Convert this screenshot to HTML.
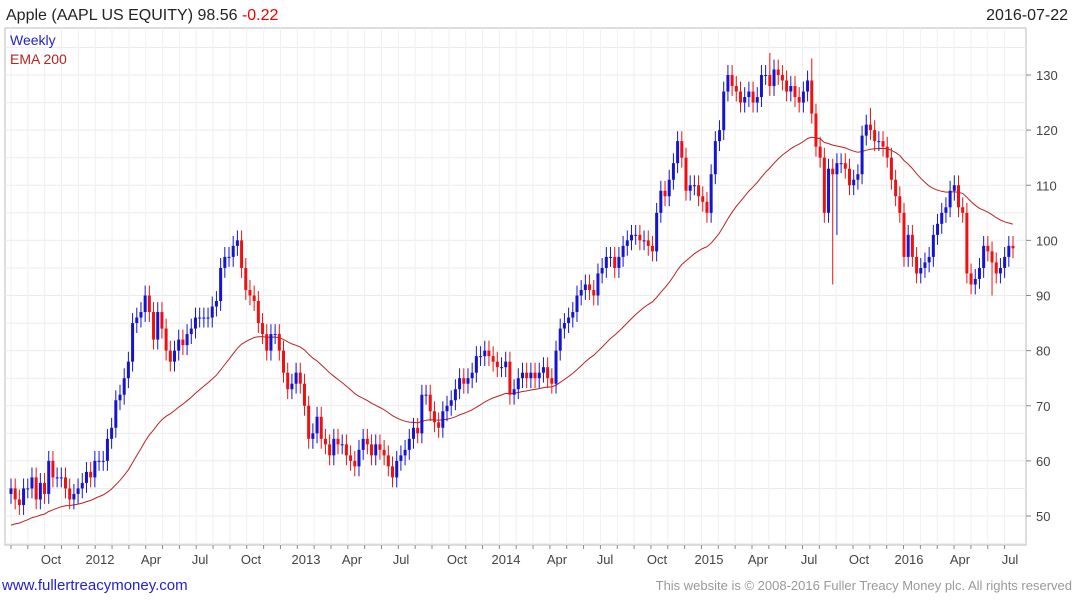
<!DOCTYPE html>
<html><head><meta charset="utf-8">
<style>
body{margin:0;background:#fff;font-family:"Liberation Sans",sans-serif;}
svg{display:block}
</style></head>
<body>
<svg id="chart" width="1075" height="600" xmlns="http://www.w3.org/2000/svg" font-family="Liberation Sans, sans-serif">
<text x="6" y="20" font-size="16" fill="#222">Apple (AAPL US EQUITY) 98.56 <tspan fill="#e00">-0.22</tspan></text>
<text x="1068" y="20" font-size="16" fill="#222" text-anchor="end">2016-07-22</text>
<rect x="5" y="28" width="1021" height="517" fill="none" stroke="#bbb"/>
<g id="grid"></g>
<g id="ema"></g>
<g id="candles"></g>
<g id="axes"></g>
<text x="10" y="45" font-size="14" fill="#2222cc">Weekly</text>
<text x="10" y="64" font-size="14" fill="#b22">EMA 200</text>
<text x="2" y="590" font-size="15" fill="#2222cc">www.fullertreacymoney.com</text>
<text x="1072" y="590" font-size="13" fill="#999" text-anchor="end">This website is © 2008-2016 Fuller Treacy Money plc. All rights reserved</text>
</svg>
<script>
const closes=[55,53,52,55, 55,57,53,56, 54,60,57,57, 57,55,53,54, 55,56,58,57,
60,60,60,64, 66,71,72,75, 78,85,86,87, 90,87,82,87, 84,80,78,80, 82,81,83,84,
86,86,86,86, 88,89,95,97, 97,99,100,95, 91,90,89,85, 83,80,83,83, 80,76,73,74,
76,74,70,64, 65,68,64,63, 61,64,63,63, 61,60,59,62, 64,63,61,63, 62,61,59,57,
60,61,62,64, 66,65,72,72, 69,67,66,69, 70,71,73,75, 74,75,76,79, 79,80,79,78,
77,77,78,72, 73,75,76,75, 76,75,76,77, 75,74,80,84, 85,86,87,90, 91,92,91,90,
94,95,97,97, 95,97,99,100, 101,101,100,100, 99,98,105,109, 108,111,114,118, 115,109,110,110,
108,107,105,112, 118,120,127,130, 128,127,125,126, 127,125,126,130, 130,128,131,130, 129,127,128,126,
125,127,129,123, 117,115,105,113, 112,114,114,113, 110,111,112,119, 121,120,118,118, 117,115,111,108,
105,97,101,97, 94,95,96,97, 101,103,105,106, 109,110,106,105, 94,92,93,95, 99,98,96,94,
95,97,99,98.56];
const lowOverrides={196:92,197:101,234:90};
const highOverrides={181:134,191:133,205:124};
const yTicks=[50,60,70,80,90,100,110,120,130];
const xTickLabels=["Oct","2012","Apr","Jul","Oct","2013","Apr","Jul","Oct","2014","Apr","Jul","Oct","2015","Apr","Jul","Oct","2016","Apr","Jul"];
const xTickPos=[51,100,151,200,251,306,352,401,457,506,557,605,657,709,758,809,859,909,960,1010];
const emaSeed=48;
const NS="http://www.w3.org/2000/svg";
function y(v){return 516-(v-50)*5.5125;}
function x(i){return 11+i*(1013-11)/(closes.length-1);}
function mk(t,a,p){const e=document.createElementNS(NS,t);for(const k in a)e.setAttribute(k,a[k]);p.appendChild(e);return e;}
const grid=document.getElementById('grid'),axes=document.getElementById('axes');
for(let v=45;v<=135;v+=5){if(y(v)<28||y(v)>545)continue;const l=mk('line',{x1:5,x2:1026,y1:y(v),y2:y(v),stroke:'#ebebeb'},grid);

}
for(let m=0;m<60;m++){const gx=11+m*(1013-11)/59.5;const l=mk('line',{x1:gx,x2:gx,y1:28,y2:545,stroke:'#f0f0f0'},grid);


const t=mk('line',{x1:gx,x2:gx,y1:545,y2:549,stroke:'#888'},axes);

}
yTicks.forEach(v=>{const t=mk('text',{x:1036,y:y(v)+5,'font-size':13,fill:'#444'},axes);t.textContent=v;


const tk=mk('line',{x1:1026,x2:1031,y1:y(v),y2:y(v),stroke:'#888'},axes);

});
xTickLabels.forEach((s,i)=>{const t=mk('text',{x:xTickPos[i],y:564,'font-size':13,fill:'#444','text-anchor':'middle'},axes);t.textContent=s;

});
let e=emaSeed,pts=[];const a=2/41;
closes.forEach((c,i)=>{e=e+a*(c-e);pts.push(x(i).toFixed(1)+','+y(e).toFixed(1));});
const pl=mk('polyline',{points:pts.join(' '),fill:'none',stroke:'#b22',"stroke-width":1},document.getElementById('ema'));


const cg=document.getElementById('candles');
closes.forEach((c,i)=>{const o=i?closes[i-1]:c-1;const up=c>=o;const col=up?'#1515d0':'#ee1111';
const hi=(highOverrides[i]!==undefined)?highOverrides[i]:Math.max(o,c)+1.8;
const lo=(lowOverrides[i]!==undefined)?lowOverrides[i]:Math.min(o,c)-1.8;const cx=x(i);
const w=mk('line',{x1:cx,x2:cx,y1:y(hi),y2:y(lo),stroke:col},cg);


const b=mk('rect',{x:cx-1.5,y:y(Math.max(o,c)),width:3,height:Math.max(1,Math.abs(y(o)-y(c))),fill:col},cg);

});
</script>
</body></html>
